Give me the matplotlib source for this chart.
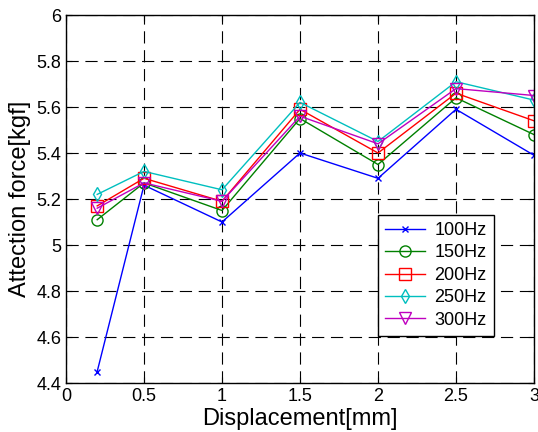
import matplotlib
matplotlib.use('Agg')
import matplotlib.pyplot as plt

plt.rcParams['font.family'] = ['Liberation Sans', 'DejaVu Sans']

x = [0.2, 0.5, 1.0, 1.5, 2.0, 2.5, 3.0]
f100 = [4.45, 5.26, 5.10, 5.40, 5.29, 5.59, 5.39]
f150 = [5.11, 5.27, 5.15, 5.55, 5.35, 5.64, 5.48]
f200 = [5.17, 5.29, 5.19, 5.59, 5.40, 5.66, 5.54]
f250 = [5.22, 5.32, 5.24, 5.62, 5.45, 5.71, 5.63]
f300 = [5.16, 5.27, 5.19, 5.56, 5.44, 5.68, 5.65]

labels = ['100Hz', '150Hz', '200Hz', '250Hz', '300Hz']
colors = ['#0000ff', '#008000', '#ff0000', '#00bfbf', '#bf00bf']
markers = ['x', 'o', 's', 'd', 'v']
sizes = [4, 8, 8, 7, 8]

fig = plt.figure(figsize=(5.38, 4.32), dpi=100)
ax = fig.add_axes([66/538, 1 - 383/432, 468/538, 368/432])

for ys, lab, c, m, s in zip([f100, f150, f200, f250, f300], labels, colors, markers, sizes):
    ax.plot(x, ys, color=c, marker=m, markersize=s, markerfacecolor='none',
            markeredgecolor=c, linewidth=1, label=lab)

ax.set_xlim(0, 3)
ax.set_ylim(4.4, 6)
ax.set_xticks([0, 0.5, 1, 1.5, 2, 2.5, 3])
ax.set_xticklabels(['0', '0.5', '1', '1.5', '2', '2.5', '3'])
ax.set_yticks([4.4, 4.6, 4.8, 5.0, 5.2, 5.4, 5.6, 5.8, 6.0])
ax.set_yticklabels(['4.4', '4.6', '4.8', '5', '5.2', '5.4', '5.6', '5.8', '6'])
ax.grid(True, color='black', linestyle=(0, (11, 6)), linewidth=0.8)
ax.tick_params(direction='in', labelsize=13, length=4, top=True, right=True)
for sp in ax.spines.values():
    sp.set_linewidth(1)
ax.set_xlabel('Displacement[mm]', fontsize=17, labelpad=2)
ax.set_ylabel('Attection force[kgf]', fontsize=17, labelpad=4)

leg = ax.legend(loc='lower left', bbox_to_anchor=(0.667, 0.128), fontsize=13,
                fancybox=False, framealpha=1, edgecolor='black', borderpad=0.4,
                labelspacing=0.3, handlelength=2.2, handletextpad=0.5,
                borderaxespad=0)
leg.get_frame().set_linewidth(1)

fig.savefig('out.png', dpi=100)
